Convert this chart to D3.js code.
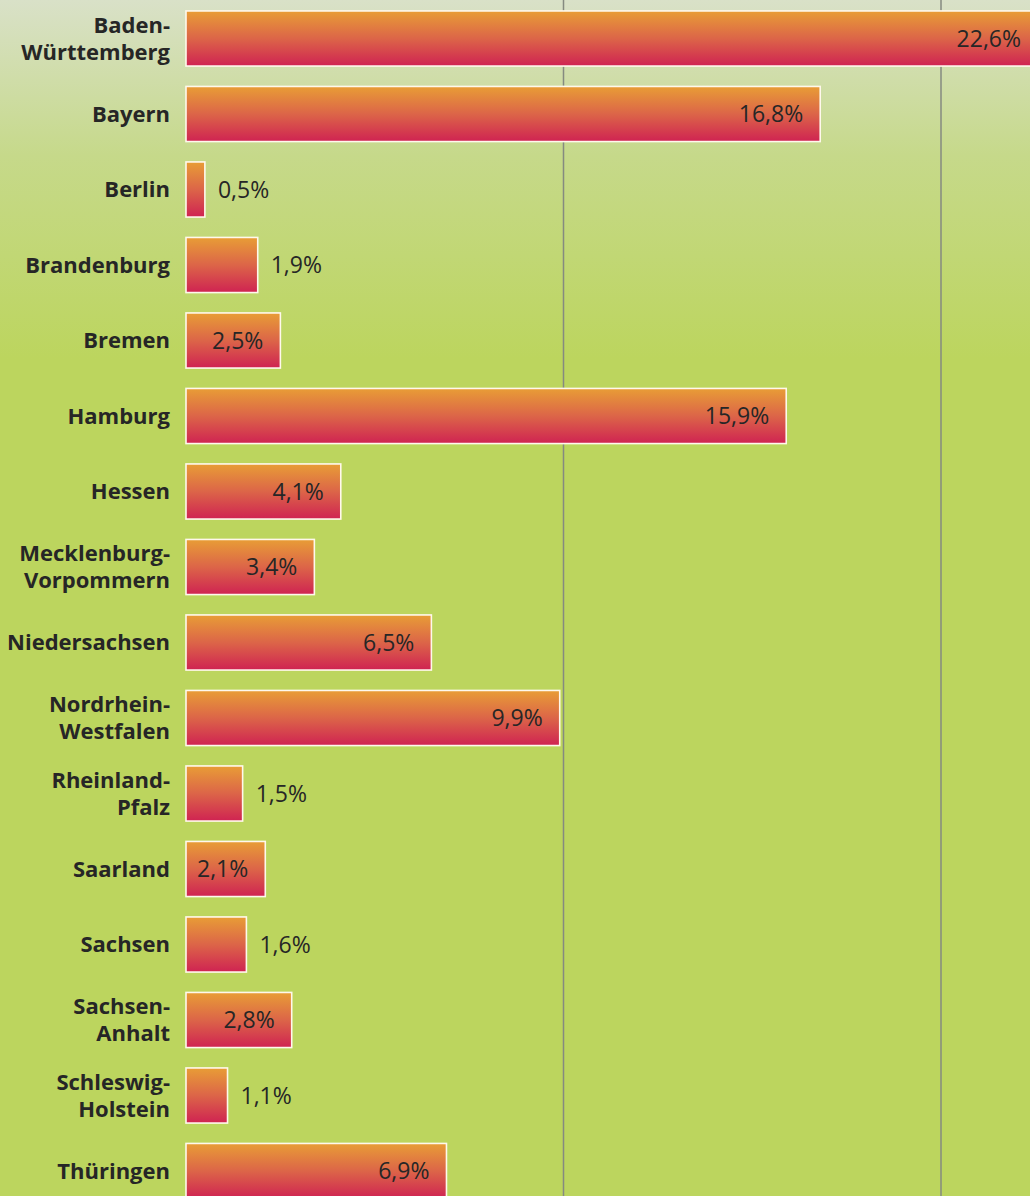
<!DOCTYPE html>
<html><head><meta charset="utf-8">
<script src="https://cdn.jsdelivr.net/npm/d3@7"></script>
<style>html,body{margin:0;padding:0;overflow:hidden;}svg{display:block;}</style>
</head><body>
<svg id="chart" width="1030" height="1196"></svg>
<script>
const categories = ["Baden-\nWürttemberg","Bayern","Berlin","Brandenburg","Bremen","Hamburg","Hessen","Mecklenburg-\nVorpommern","Niedersachsen","Nordrhein-\nWestfalen","Rheinland-\nPfalz","Saarland","Sachsen","Sachsen-\nAnhalt","Schleswig-\nHolstein","Thüringen"];
const values = [22.6,16.8,0.5,1.9,2.5,15.9,4.1,3.4,6.5,9.9,1.5,2.1,1.6,2.8,1.1,6.9];
const valueLabels = ["22,6%","16,8%","0,5%","1,9%","2,5%","15,9%","4,1%","3,4%","6,5%","9,9%","1,5%","2,1%","1,6%","2,8%","1,1%","6,9%"];
const gridTicks = [10,20];

const W=1030,H=1196;
const svg=d3.select("#chart");
const defs=svg.append("defs");
const bg=defs.append("linearGradient").attr("id","bg").attr("x1",0).attr("y1",0).attr("x2",0).attr("y2",1);
bg.append("stop").attr("offset","0").attr("stop-color","#d9e1c8");
bg.append("stop").attr("offset","0.13").attr("stop-color","#c6d98a");
bg.append("stop").attr("offset","0.3").attr("stop-color","#bcd55e");
bg.append("stop").attr("offset","1").attr("stop-color","#bcd55e");
const bar=defs.append("linearGradient").attr("id","bar").attr("x1",0).attr("y1",0).attr("x2",0).attr("y2",1);
bar.append("stop").attr("offset","0").attr("stop-color","#e89d36");
bar.append("stop").attr("offset","0.5").attr("stop-color","#dc6548");
bar.append("stop").attr("offset","1").attr("stop-color","#cf2352");

svg.append("rect").attr("width",W).attr("height",H).attr("fill","url(#bg)");

const x=d3.scaleLinear().domain([0,20]).range([186,941]);
const y=d3.scaleBand().domain(categories).range([0.75,1208.75]).paddingInner(0.27).paddingOuter(0.135);

svg.append("g").selectAll("line").data(gridTicks).join("line")
  .attr("x1",d=>x(d)).attr("x2",d=>x(d)).attr("y1",0).attr("y2",H)
  .attr("stroke","#858a80").attr("stroke-width",1.5);

svg.append("g").selectAll("rect").data(categories).join("rect")
  .attr("x",x(0)).attr("y",d=>y(d))
  .attr("width",(d,i)=>x(values[i])-x(0)).attr("height",y.bandwidth())
  .attr("fill","url(#bar)").attr("stroke","#fff8ec").attr("stroke-width",1.6);

const font="'Open Sans', 'Noto Sans', sans-serif";
const lab=svg.append("g").attr("font-family",font).attr("font-weight","bold").attr("font-size",22).attr("fill","#262626").attr("text-anchor","end");
categories.forEach((c,i)=>{
  const lines=c.split("\n");
  const cy=y(c)+y.bandwidth()/2;
  const lh=27;
  const t=lab.append("text").attr("x",170);
  lines.forEach((l,j)=>{
    t.append("tspan").attr("x",170).attr("y",cy+(j-(lines.length-1)/2)*lh).attr("dy","0.35em").text(l);
  });
});

const vl=svg.append("g").attr("font-family",font).attr("font-size",23).attr("fill","#262626");
categories.forEach((c,i)=>{
  const inside=values[i]>=2;
  const cy=y(c)+y.bandwidth()/2;
  let xe=x(values[i]);
  vl.append("text")
    .attr("x", inside ? Math.min(xe,W+8)-17 : xe+13)
    .attr("y",cy).attr("dy","0.35em")
    .attr("text-anchor", inside?"end":"start")
    .text(valueLabels[i]);
});
</script>
</body></html>
